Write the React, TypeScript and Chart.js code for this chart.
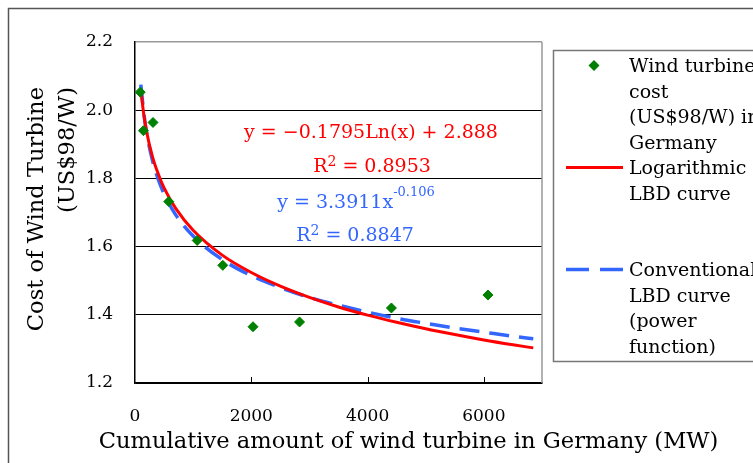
import React, { useEffect, useRef } from "react";
import { Chart, registerables } from "chart.js";

Chart.register(...registerables);

// Observed data: cumulative wind capacity in Germany (MW) vs turbine cost (US$98/W)
const turbineMW = [90, 145, 310, 580, 1070, 1510, 2030, 2830, 4410, 6070];
const turbineCost = [2.053, 1.94, 1.964, 1.732, 1.618, 1.545, 1.365, 1.379, 1.42, 1.458];

// Trend curves
const curveMW = [100, 150, 200, 300, 400, 500, 700, 1000, 1500, 2000, 2500, 3000, 3500, 4000, 4500, 5000, 5500, 6000, 6500, 6850];
const logCurve = [2.061, 1.989, 1.937, 1.864, 1.813, 1.772, 1.712, 1.648, 1.575, 1.524, 1.484, 1.451, 1.423, 1.399, 1.378, 1.359, 1.342, 1.326, 1.312, 1.303];
const powerCurve = [2.075, 1.994, 1.934, 1.853, 1.797, 1.755, 1.693, 1.631, 1.562, 1.515, 1.48, 1.451, 1.428, 1.408, 1.39, 1.375, 1.361, 1.349, 1.337, 1.33];

const xMin = 0;
const xMax = 7000;
const xTicks = [0, 2000, 4000, 6000];
const yMin = 1.2;
const yMax = 2.2;
const yTicks = [1.2, 1.4, 1.6, 1.8, 2.0, 2.2];

const seriesLabels = [
  ["Wind turbine", "cost", "(US$98/W) in", "Germany"],
  ["Logarithmic", "LBD curve"],
  ["Conventional", "LBD curve", "(power", "function)"],
];
const xTitle = "Cumulative amount of wind turbine in Germany (MW)";
const yTitle = ["Cost of Wind Turbine", "(US$98/W)"];
const logEqMain = "y = \u22120.1795Ln(x) + 2.888";
const logR2 = " = 0.8953";
const powEqMain = "y = 3.3911x";
const powEqExp = "-0.106";
const powR2 = " = 0.8847";

const GREEN = "#008000";
const RED = "#ff0000";
const BLUE = "#3366ff";
const FONT = "'DejaVu Serif', serif";

type Part = { t: string; sup?: boolean };

function drawRich(ctx: CanvasRenderingContext2D, parts: Part[], cx: number, baseline: number, size: number, supSize: number, rise: number, color: string) {
  ctx.save();
  ctx.fillStyle = color;
  ctx.textBaseline = "alphabetic";
  ctx.textAlign = "left";
  let total = 0;
  const widths = parts.map((p) => {
    ctx.font = `${p.sup ? supSize : size}px ${FONT}`;
    const w = ctx.measureText(p.t).width;
    total += w;
    return w;
  });
  let x = cx - total / 2;
  parts.forEach((p, i) => {
    ctx.font = `${p.sup ? supSize : size}px ${FONT}`;
    ctx.fillText(p.t, x, p.sup ? baseline - rise : baseline);
    x += widths[i];
  });
  ctx.restore();
}

const decorPlugin = {
  id: "decor",
  afterDraw(chart: any) {
    const ctx: CanvasRenderingContext2D = chart.ctx;
    const area = chart.chartArea;
    const xs = chart.scales.x;
    ctx.save();

    // outer chart frame (top & left edges visible)
    ctx.strokeStyle = "#555";
    ctx.lineWidth = 1.5;
    ctx.beginPath();
    ctx.moveTo(8.5, 470);
    ctx.lineTo(8.5, 8.5);
    ctx.lineTo(760, 8.5);
    ctx.stroke();

    // plot area right border (gray)
    ctx.strokeStyle = "#999";
    ctx.lineWidth = 1.5;
    ctx.beginPath();
    ctx.moveTo(area.right, area.top);
    ctx.lineTo(area.right, area.bottom);
    ctx.stroke();

    // inward x tick marks
    ctx.strokeStyle = "#000";
    ctx.lineWidth = 1;
    xTicks.forEach((v) => {
      if (v === xMin) return;
      const px = Math.round(xs.getPixelForValue(v)) + 0.5;
      ctx.beginPath();
      ctx.moveTo(px, area.bottom);
      ctx.lineTo(px, area.bottom - 6);
      ctx.stroke();
    });

    // axis titles
    ctx.fillStyle = "#000";
    ctx.font = `22.6px ${FONT}`;
    ctx.textBaseline = "alphabetic";
    ctx.textAlign = "center";
    ctx.fillText(xTitle, 408.5, 448);

    ctx.save();
    ctx.translate(0, 87);
    ctx.rotate(-Math.PI / 2);
    ctx.textAlign = "right";
    ctx.fillText(yTitle[0], 0, 43);
    ctx.fillText(yTitle[1], 0, 74);
    ctx.restore();

    // equations
    drawRich(ctx, [{ t: logEqMain }], 371, 138, 19, 14, 6, RED);
    drawRich(ctx, [{ t: "R" }, { t: "2", sup: true }, { t: logR2 }], 372, 172, 19, 14, 6, RED);
    drawRich(ctx, [{ t: powEqMain }, { t: powEqExp, sup: true }], 356, 208, 19, 13, 12, BLUE);
    drawRich(ctx, [{ t: "R" }, { t: "2", sup: true }, { t: powR2 }], 355, 241, 19, 14, 6, BLUE);

    // legend box
    ctx.strokeStyle = "#777";
    ctx.lineWidth = 1.5;
    ctx.strokeRect(553.5, 50.5, 300, 311);

    const ds = chart.data.datasets;
    const lineH = 25.5;
    const base0 = 72;
    const textX = 629;
    ctx.fillStyle = "#000";
    ctx.font = `19px ${FONT}`;
    ctx.textAlign = "left";
    ctx.textBaseline = "alphabetic";
    seriesLabels.forEach((lines, i) => {
      lines.forEach((ln, j) => {
        ctx.fillText(ln, textX, base0 + (i * 4 + j) * lineH);
      });
      const symY = base0 + i * 4 * lineH - 6.5;
      const d = ds[i];
      if (i === 0) {
        ctx.fillStyle = d.backgroundColor;
        ctx.beginPath();
        ctx.moveTo(594 - 5.5, symY);
        ctx.lineTo(594, symY - 5.5);
        ctx.lineTo(594 + 5.5, symY);
        ctx.lineTo(594, symY + 5.5);
        ctx.closePath();
        ctx.fill();
        ctx.fillStyle = "#000";
      } else {
        ctx.save();
        ctx.strokeStyle = d.borderColor;
        ctx.lineWidth = d.borderWidth;
        ctx.setLineDash(d.borderDash ? [23, 11] : []);
        ctx.beginPath();
        ctx.moveTo(566, symY);
        ctx.lineTo(623, symY);
        ctx.stroke();
        ctx.restore();
      }
    });

    ctx.restore();
  },
};

export default function App() {
  const ref = useRef<HTMLCanvasElement | null>(null);

  useEffect(() => {
    if (!ref.current) return;
    const chart = new Chart(ref.current, {
      type: "scatter",
      data: {
        datasets: [
          {
            label: seriesLabels[0].join(" "),
            data: turbineMW.map((x, i) => ({ x, y: turbineCost[i] })),
            pointStyle: "rectRot",
            pointRadius: 5,
            pointBorderWidth: 1,
            backgroundColor: GREEN,
            borderColor: GREEN,
            showLine: false,
          },
          {
            label: seriesLabels[1].join(" "),
            data: curveMW.map((x, i) => ({ x, y: logCurve[i] })),
            showLine: true,
            pointRadius: 0,
            borderColor: RED,
            backgroundColor: RED,
            borderWidth: 3,
            cubicInterpolationMode: "monotone",
          },
          {
            label: seriesLabels[2].join(" "),
            data: curveMW.map((x, i) => ({ x, y: powerCurve[i] })),
            showLine: true,
            pointRadius: 0,
            borderColor: BLUE,
            backgroundColor: BLUE,
            borderWidth: 3.5,
            borderDash: [20, 10],
            cubicInterpolationMode: "monotone",
          },
        ],
      },
      options: {
        responsive: false,
        devicePixelRatio: 1,
        animation: false,
        layout: { padding: { top: 42, right: 211, left: 0, bottom: 0 } },
        plugins: { legend: { display: false }, tooltip: { enabled: false } },
        scales: {
          x: {
            type: "linear",
            min: xMin,
            max: xMax,
            afterFit: (s: any) => {
              s.height = 80;
            },
            afterBuildTicks: (s: any) => {
              s.ticks = xTicks.map((v) => ({ value: v }));
            },
            ticks: {
              color: "#000",
              font: { family: FONT, size: 17 },
              padding: 23,
              maxRotation: 0,
              autoSkip: false,
              callback: (v: any) => String(v),
            },
            grid: {
              drawOnChartArea: false,
              drawTicks: false,
            },
            border: { color: "#000", width: 1.5 },
          },
          y: {
            type: "linear",
            min: yMin,
            max: yMax,
            afterFit: (s: any) => {
              s.width = 135;
            },
            afterBuildTicks: (s: any) => {
              s.ticks = yTicks.map((v) => ({ value: v }));
            },
            ticks: {
              color: "#000",
              font: { family: FONT, size: 17 },
              padding: 22,
              callback: (v: any) => Number(v).toFixed(1),
            },
            grid: {
              drawTicks: false,
              color: (c: any) => (c.tick && c.tick.value > 2.15 ? "#999" : "#000"),
              lineWidth: (c: any) => (c.tick && c.tick.value > 2.15 ? 1.5 : 1),
            },
            border: { color: "#000", width: 1.5 },
          },
        },
      },
      plugins: [decorPlugin],
    } as any);
    return () => chart.destroy();
  }, []);

  return (
    <div style={{ position: "fixed", left: 0, top: 0, width: 753, height: 463, overflow: "hidden", background: "#fff" }}>
      <canvas ref={ref} width={753} height={463} style={{ display: "block", width: 753, height: 463 }} />
    </div>
  );
}
